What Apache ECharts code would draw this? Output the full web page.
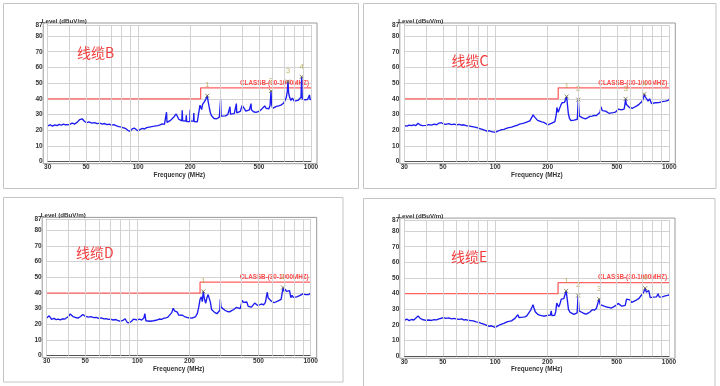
<!DOCTYPE html>
<html><head><meta charset="utf-8">
<script src="https://cdn.jsdelivr.net/npm/echarts@6/dist/echarts.min.js"></script>
<style>html,body{margin:0;padding:0;background:#fff}#c{width:720px;height:386px}</style>
</head><body><div id="c"></div>
<script>
// ---------- DATA ----------
const panelTitles = ['线缆B', '线缆C', '线缆D', '线缆E'];
const yAxisTitle = 'Level (dBuV/m)';
const xAxisTitle = 'Frequency (MHz)';
const limitName = 'CLASSB-(30-1000MHZ)';
const xTickValues = [30, 40, 50, 60, 70, 80, 90, 100, 200, 300, 400, 500, 600, 700, 800, 900, 1000];
const xLabelValues = [30, 50, 100, 200, 500, 1000];
const yTickValues = [0, 10, 20, 30, 40, 50, 60, 70, 80, 87];
const limitFreq = [30, 230, 230, 1000];
const limitLevel = [40, 40, 47, 47];

const traceB = [[30,22.8],[31,23.5],[32,22.6],[33,23.4],[34,23.0],[35,23.8],[36,23.2],[37,23.9],[38,23.5],[39,24.2],[40,23.6],[41.5,24.6],[43,24.0],[44.5,25.2],[46,26.8],[47.5,27.3],[49,25.6],[50.5,24.8],[52,25.3],[54,24.6],[56,24.9],[58,24.2],[60,24.5],[62,23.9],[64,24.3],[66,23.6],[68,23.9],[70,23.3],[72.5,23.6],[75,22.8],[77.5,22.3],[80,22.0],[82.5,21.5],[85,21.0],[87.5,19.8],[90,19.3],[92.5,20.9],[95,21.4],[97.5,20.2],[100,19.5],[103,20.6],[106,21.2],[109,20.8],[112,21.7],[115,21.3],[118,22.2],[121,21.9],[124,22.6],[127,22.3],[130,23.0],[134,23.4],[138,24.1],[142,23.8],[145,25.0],[146,31.5],[147,25.0],[150,25.6],[154,26.3],[158,27.0],[162,28.8],[166,30.4],[168,29.6],[170,30.2],[172,27.0],[175,26.3],[179,26.0],[180,32.8],[181,26.0],[185,25.7],[189,25.9],[190,29.5],[191,25.5],[195,25.8],[199,25.6],[200,33.0],[201,25.8],[205,25.4],[209,25.9],[210,31.0],[211,25.6],[215,24.8],[220,25.3],[224,26.0],[226,33.5],[228,36.0],[230,35.0],[233,33.2],[236,36.5],[240,37.5],[244,38.8],[248,39.0],[251,42.0],[254,38.5],[258,34.5],[262,31.0],[266,29.2],[270,28.5],[275,27.5],[280,27.9],[285,27.3],[290,28.0],[295,28.4],[299,28.0],[300,39.5],[302,29.0],[310,29.6],[320,29.2],[330,30.0],[338,30.5],[340,35.0],[342,30.3],[350,31.0],[360,30.6],[368,31.2],[370,37.0],[372,31.0],[380,30.8],[390,32.0],[400,35.8],[410,35.0],[420,32.2],[430,32.6],[440,33.0],[448,33.2],[450,37.0],[452,33.0],[465,31.8],[480,31.4],[490,31.8],[500,32.0],[510,32.8],[520,33.6],[530,34.6],[540,35.5],[550,34.0],[560,33.2],[570,33.6],[580,36.0],[587,45.0],[593,36.0],[600,34.0],[615,34.4],[630,35.2],[650,35.5],[670,36.0],[690,37.0],[705,38.5],[720,41.0],[730,45.0],[736,51.0],[742,44.0],[750,41.5],[765,39.0],[780,40.5],[800,38.5],[820,38.0],[840,39.0],[860,39.5],[875,41.0],[883,54.0],[890,40.0],[905,38.8],[920,39.3],[940,39.0],[955,39.6],[970,39.2],[980,42.5],[988,39.5],[1000,39.8]];

const traceC = [[30,23.0],[31,22.6],[32,23.3],[33,22.9],[34,23.5],[35,23.0],[36,24.5],[37,23.4],[38,23.0],[39,23.6],[40,23.1],[41.5,23.6],[43,23.3],[44.5,23.9],[46,23.5],[47.5,24.6],[49,24.8],[50.5,24.0],[52,23.8],[54,24.2],[56,23.6],[58,23.9],[60,23.4],[62,23.8],[64,23.2],[66,23.5],[68,22.9],[70,22.8],[72.5,22.5],[75,22.2],[77.5,21.8],[80,21.3],[82.5,20.9],[85,20.4],[87.5,19.9],[90,19.3],[92.5,19.7],[95,19.1],[97.5,18.6],[100,18.7],[103,19.5],[106,19.9],[109,20.4],[112,20.6],[115,21.0],[118,21.5],[121,21.3],[124,22.0],[127,22.4],[130,22.8],[134,23.2],[138,23.9],[142,24.2],[146,24.6],[150,25.0],[154,25.5],[158,26.0],[162,27.2],[165,29.8],[168,28.5],[170,27.5],[175,26.3],[180,25.8],[185,25.3],[190,25.0],[195,24.2],[200,23.5],[205,23.8],[210,24.4],[215,24.0],[220,25.5],[224,30.0],[226,34.5],[228,33.0],[230,31.5],[234,30.5],[238,36.0],[242,37.5],[246,36.8],[250,37.8],[254,38.5],[257,41.5],[260,36.0],[263,30.5],[267,27.5],[272,26.2],[278,26.0],[284,26.5],[290,26.8],[296,27.0],[300,39.5],[304,29.0],[310,28.5],[320,27.8],[330,27.3],[340,28.0],[350,28.8],[360,29.0],[370,29.5],[380,29.3],[390,30.0],[400,31.5],[405,35.0],[412,32.5],[420,31.5],[430,32.2],[440,31.6],[450,30.8],[460,30.5],[475,31.2],[490,31.5],[500,32.4],[510,33.5],[520,34.2],[530,33.0],[540,32.0],[550,33.5],[556,36.5],[561,40.0],[566,36.5],[575,35.5],[590,34.5],[600,35.5],[615,34.0],[630,34.8],[650,35.5],[670,36.5],[690,37.8],[705,39.5],[712,41.0],[719,43.0],[726,41.5],[740,40.5],[755,38.5],[770,40.0],[790,37.0],[810,36.8],[830,37.5],[850,38.0],[870,37.6],[890,38.5],[910,38.2],[930,38.8],[950,38.5],[970,39.3],[985,39.0],[1000,39.8]];

const traceD = [[30,24.0],[31,25.5],[32,23.2],[33,23.8],[34,23.0],[35,23.4],[36,22.9],[37,23.6],[38,23.3],[39,24.2],[40,25.0],[41,26.6],[42.5,25.0],[44,24.4],[45.5,24.0],[47,25.0],[48.5,26.3],[50,25.2],[52,24.6],[54,24.9],[56,24.3],[58,24.5],[60,23.8],[62,24.1],[64,23.5],[66,23.7],[68,23.2],[70,23.3],[72.5,22.8],[75,23.1],[77.5,22.4],[80,22.0],[82.5,22.5],[85,23.6],[87.5,21.2],[90,21.0],[92.5,22.0],[95,23.3],[97.5,22.6],[100,22.8],[103,23.3],[106,22.7],[109,24.0],[110.5,26.8],[112,22.3],[115,21.8],[118,22.0],[121,22.6],[124,22.3],[127,23.0],[130,22.8],[134,23.4],[138,23.2],[142,23.9],[146,24.2],[150,24.6],[154,25.5],[158,27.5],[161,30.3],[164,28.6],[167,29.8],[170,27.8],[173,26.0],[177,25.3],[182,25.8],[187,25.0],[192,24.6],[197,24.2],[202,24.5],[207,24.0],[212,24.6],[217,25.0],[222,27.0],[226,31.0],[230,36.0],[234,37.5],[237,34.5],[240,41.0],[244,36.0],[248,33.5],[252,37.0],[256,39.0],[260,38.5],[264,34.0],[268,29.5],[274,28.5],[280,27.5],[288,26.8],[295,27.5],[299,29.0],[301,36.0],[304,31.0],[312,30.0],[320,29.0],[330,28.2],[340,28.0],[350,28.8],[360,29.5],[372,30.8],[382,31.5],[392,30.0],[398,33.0],[402,35.3],[410,34.0],[420,33.0],[428,34.3],[436,31.5],[445,30.5],[455,31.0],[465,32.0],[475,33.6],[485,32.5],[495,32.0],[505,32.8],[520,33.0],[535,32.5],[548,34.0],[556,38.0],[562,40.5],[568,37.0],[578,36.0],[590,35.0],[602,34.0],[615,33.8],[630,34.5],[645,34.8],[660,35.5],[675,36.0],[688,37.0],[693,43.5],[700,41.0],[712,42.5],[725,41.0],[740,42.2],[755,41.5],[768,37.0],[780,38.5],[795,37.2],[810,36.8],[830,37.5],[850,37.8],[870,38.5],[885,38.0],[900,39.5],[915,38.5],[935,39.0],[955,39.3],[975,39.0],[990,39.6],[1000,40.0]];

const traceE = [[30,23.0],[31,23.8],[32,22.8],[33,23.5],[34,23.2],[35,24.5],[36,25.8],[37,24.3],[38,23.5],[39,23.2],[40,23.0],[41.5,23.2],[43,22.9],[44.5,23.4],[46,23.3],[47.5,23.9],[49,24.3],[50.5,24.7],[52,24.2],[54,24.5],[56,23.9],[58,24.2],[60,23.8],[62,23.6],[64,23.9],[66,23.2],[68,23.4],[70,23.0],[72.5,22.8],[75,22.6],[77.5,22.0],[80,21.8],[82.5,21.2],[85,20.7],[87.5,20.2],[90,19.6],[92.5,19.2],[95,19.5],[97.5,18.7],[100,18.5],[103,19.3],[106,20.0],[109,20.6],[112,21.0],[115,21.4],[118,22.2],[121,21.8],[124,22.6],[127,23.3],[130,24.2],[133,24.8],[135,26.6],[137,24.8],[140,24.5],[144,25.0],[148,25.2],[152,25.8],[156,26.5],[160,29.5],[163,31.5],[165,33.0],[167,31.0],[170,28.5],[175,27.0],[180,26.3],[185,26.0],[190,25.6],[195,25.9],[200,26.2],[205,25.8],[208,26.4],[210,29.0],[212,26.0],[216,25.7],[220,26.2],[223,28.5],[226,34.0],[229,35.0],[232,31.5],[236,33.5],[240,36.5],[244,35.8],[248,36.8],[252,38.0],[256,41.8],[260,36.0],[264,30.0],[270,28.0],[277,27.2],[284,26.8],[290,27.0],[296,27.8],[300,38.8],[304,29.0],[312,28.0],[322,27.5],[332,27.0],[342,27.5],[352,28.5],[362,29.8],[372,29.5],[382,30.5],[390,31.5],[396,36.5],[402,33.0],[412,33.5],[424,32.0],[436,31.5],[450,31.2],[465,30.8],[480,31.6],[495,32.5],[510,33.8],[522,34.0],[535,32.0],[548,31.0],[560,32.5],[570,36.5],[582,35.5],[596,36.0],[610,34.5],[625,34.0],[640,35.5],[655,36.0],[672,37.0],[688,38.5],[705,40.0],[718,41.5],[730,43.5],[740,41.0],[752,40.5],[765,42.0],[780,37.5],[795,37.0],[812,37.8],[830,37.0],[848,38.0],[865,40.0],[880,37.8],[898,38.5],[915,38.0],[932,39.2],[950,38.6],[968,39.4],[985,38.9],[1000,39.4]];

const markerFreqB = [251, 587, 736, 883];
const markerLevelB = [42, 45, 51, 54];
const markerFreqC = [257, 300, 561, 719];
const markerLevelC = [41.5, 39.5, 40, 43];
const markerFreqD = [240, 693];
const markerLevelD = [41, 43.5];
const markerFreqE = [256, 300, 396, 730];
const markerLevelE = [41.8, 38.8, 36.5, 43.5];

// ---------- LAYOUT ----------
const traces = [traceB, traceC, traceD, traceE];
const markerFreqs = [markerFreqB, markerFreqC, markerFreqD, markerFreqE];
const markerLevels = [markerLevelB, markerLevelC, markerLevelD, markerLevelE];
const grids = [
  {left: 47.7, top: 25, width: 263.3, height: 136.7},
  {left: 404.3, top: 25, width: 265, height: 136.7},
  {left: 46.7, top: 219.4, width: 264, height: 136.3},
  {left: 404.3, top: 220.1, width: 264.7, height: 136.2}
];
const outerFrames = [
  {x: 3.5, y: 3.5, w: 355, h: 185},
  {x: 363.5, y: 3.5, w: 352.5, h: 185},
  {x: 3.5, y: 197.5, w: 339.5, h: 184.5},
  {x: 363.5, y: 198.5, w: 351.5, h: 190}
];
const titlePos = [{x: 77, y: 46}, {x: 451.5, y: 54}, {x: 76, y: 246}, {x: 451, y: 250}];
const FONT = '"Liberation Sans", Arial, sans-serif';

const option = {
  animation: false,
  backgroundColor: '#fff',
  title: [],
  grid: grids.map(g => ({left: g.left, top: g.top, width: g.width, height: g.height, show: false})),
  xAxis: [], yAxis: [], series: [], graphic: []
};

grids.forEach((g, i) => {
  option.graphic.push({type: 'rect', silent: true, z: -10,
    shape: {x: outerFrames[i].x, y: outerFrames[i].y, width: outerFrames[i].w, height: outerFrames[i].h},
    style: {fill: '#fff', stroke: '#c4c4c4', lineWidth: 1}});
  option.graphic.push({type: 'rect', silent: true, z: -5,
    shape: {x: g.left - 4.5, y: g.top - 2, width: g.width + 10.5, height: g.height + 4},
    style: {fill: 'none', stroke: '#9a9a9a', lineWidth: 1}});
  option.title.push({text: panelTitles[i], left: titlePos[i].x, top: titlePos[i].y, padding: 0,
    textStyle: {color: '#f23c3c', fontSize: 14, fontWeight: 'normal', fontFamily: '"Noto Sans CJK SC", sans-serif'}});
  option.title.push({text: yAxisTitle, left: g.left - 6, top: g.top - 7, padding: 0,
    textStyle: {color: '#333', fontSize: 6.2, fontWeight: 'bold', fontFamily: FONT}});
  option.xAxis.push({
    type: 'log', logBase: 10, gridIndex: i, min: 30, max: 1000,
    name: xAxisTitle, nameLocation: 'middle', nameGap: 8,
    nameTextStyle: {color: '#333', fontSize: 6.4, fontWeight: 'bold', fontFamily: FONT},
    axisLine: {show: true, lineStyle: {color: '#555', width: 1}},
    axisTick: {show: false},
    axisLabel: {customValues: xLabelValues, formatter: v => String(v), margin: 2.5, color: '#333', fontSize: 6.5, fontWeight: 'bold', fontFamily: FONT},
    splitLine: {show: false},
    minorSplitLine: {show: false}
  });
  option.yAxis.push({
    type: 'value', gridIndex: i, min: 0, max: 87, interval: 10,
    axisLine: {show: true, lineStyle: {color: '#555', width: 1}},
    axisTick: {show: false, customValues: yTickValues},
    axisLabel: {customValues: yTickValues, margin: 5, color: '#333', fontSize: 6.5, fontWeight: 'bold', fontFamily: FONT},
    splitLine: {show: true, lineStyle: {color: '#d2d2d2', width: 1}}
  });
  // vertical grid lines through the log scale
  option.series.push({
    type: 'line', xAxisIndex: i, yAxisIndex: i, data: [], z: 1, silent: true,
    markLine: {silent: true, symbol: 'none', animation: false, label: {show: false},
      lineStyle: {color: '#d2d2d2', width: 1, type: 'solid'},
      emphasis: {disabled: true},
      data: xTickValues.map(v => ({xAxis: v}))}
  });
  option.series.push({
    type: 'line', xAxisIndex: i, yAxisIndex: i, data: traces[i], showSymbol: false, symbol: 'none',
    lineStyle: {color: '#1c1cf0', width: 1.35}, z: 3
  });
  option.series.push({
    type: 'line', xAxisIndex: i, yAxisIndex: i, showSymbol: true, symbolSize: 0, z: 2,
    data: limitFreq.map((f, k) => ({value: [f, limitLevel[k]],
      label: {show: k === limitFreq.length - 1, position: 'top', distance: 2, align: 'right', offset: [-2, 0],
        formatter: limitName, color: '#ff4a4a', fontSize: 6.3, fontWeight: 'bold', fontFamily: FONT}})),
    lineStyle: {color: '#ff6060', width: 1.3}
  });
  option.series.push({
    type: 'scatter', xAxisIndex: i, yAxisIndex: i, z: 4,
    data: markerFreqs[i].map((f, k) => [f, markerLevels[i][k]]),
    symbol: 'path://M0,0L10,10M10,0L0,10', symbolSize: 4,
    itemStyle: {color: 'none', borderColor: '#6f6a3a', borderWidth: 1},
    label: {show: true, position: 'top', distance: 2, formatter: p => String(p.dataIndex + 1),
      color: '#b3a24a', fontSize: 8, fontFamily: FONT}
  });
});

const chart = echarts.init(document.getElementById('c'), null, {renderer: 'canvas'});
chart.setOption(option);
</script></body></html>
